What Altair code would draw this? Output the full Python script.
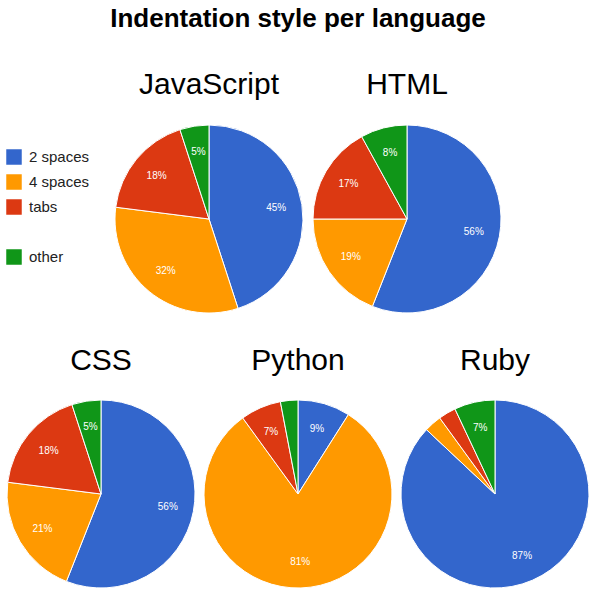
import altair as alt
import pandas as pd

FONT = "Liberation Sans"

languages = ["JavaScript", "HTML", "CSS", "Python", "Ruby"]
categories = ["2 spaces", "4 spaces", "tabs", "other"]
javascript = [45, 32, 18, 5]
html = [56, 19, 17, 8]
css = [56, 21, 18, 5]
python = [9, 81, 7, 3]
ruby = [87, 3, 3, 7]

legend_domain = ["2 spaces", "4 spaces", "tabs", " ", "other"]
legend_colors = ["#3366cc", "#ff9900", "#dc3912", "#ffffff", "#109618"]

series = {"JavaScript": javascript, "HTML": html, "CSS": css, "Python": python, "Ruby": ruby}
rows = []
for lang in languages:
    for i, (cat, v) in enumerate(zip(categories, series[lang])):
        rows.append({"language": lang, "category": cat, "value": v, "idx": i,
                     "label": f"{v}%" if v >= 5 else ""})
df = pd.DataFrame(rows)

color_scale = alt.Scale(domain=legend_domain, range=legend_colors)


def pie(lang, title_offset=24):
    base = alt.Chart(df).transform_filter(alt.datum.language == lang)
    arcs = base.mark_arc(stroke="white", strokeWidth=1).encode(
        theta=alt.Theta("value:Q", stack=True),
        color=alt.Color("category:N", scale=color_scale, legend=None),
        order=alt.Order("idx:Q"),
    )
    text = base.mark_text(radius=68, color="white", fontSize=10, font=FONT).encode(
        theta=alt.Theta("value:Q", stack=True),
        order=alt.Order("idx:Q"),
        detail="category:N",
        text="label:N",
    )
    return alt.layer(arcs, text).properties(
        width=188, height=188,
        title=alt.Title(lang, fontSize=30, fontWeight="normal", font=FONT, color="black",
                        offset=title_offset, anchor="middle"),
    )


# legend-only panel on the left of the first row
legend_panel = alt.Chart(df).transform_filter(alt.datum.language == "JavaScript").mark_point(
    opacity=0, filled=True
).encode(
    color=alt.Color(
        "category:N", scale=color_scale,
        legend=alt.Legend(title=None, orient="none", legendX=-1, legendY=24,
                          symbolType="square", symbolSize=240, symbolStrokeWidth=0,
                          symbolOpacity=1,
                          labelFontSize=15, labelFont=FONT, labelColor="#222222",
                          rowPadding=9, labelOffset=7),
    )
).properties(width=100, height=188)

row1 = alt.hconcat(legend_panel, pie("JavaScript", 23), pie("HTML", 23), spacing=6).resolve_legend(color="independent").resolve_scale(color="independent")
row2 = alt.hconcat(pie("CSS", 22), pie("Python", 22), pie("Ruby", 22), spacing=5).resolve_legend(color="independent").resolve_scale(color="independent")

chart = alt.vconcat(row1, row2, spacing=31).resolve_legend(color="independent").resolve_scale(color="independent").properties(
    title=alt.Title("Indentation style per language", fontSize=26, fontWeight="bold", font=FONT,
                    color="black", anchor="middle", offset=38),
    padding={"left": 5, "top": 6, "right": 0, "bottom": 0},
).configure_view(stroke=None)

chart.save("out.html", embed_options={"renderer": "svg", "actions": False})
